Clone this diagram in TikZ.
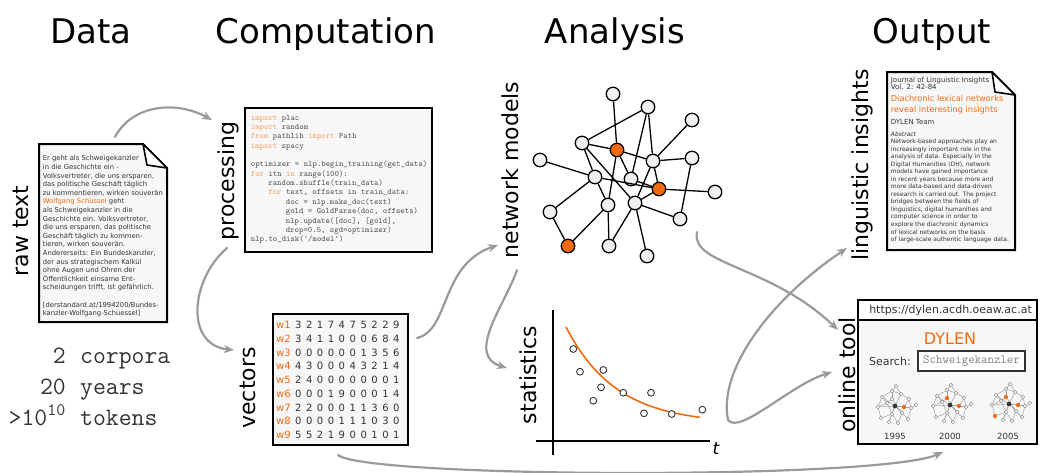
\documentclass[tikz,border=0pt]{standalone}
\usepackage{fontspec}
\setmainfont{DejaVu Sans}
\usetikzlibrary{arrows.meta}

\definecolor{accent}{HTML}{F26A0F}
\definecolor{codekw}{HTML}{F4A36A}
\definecolor{codetx}{HTML}{555555}
\definecolor{paper}{HTML}{F7F7F7}
\definecolor{flow}{HTML}{9A9A9A}
\definecolor{ink}{HTML}{333333}
\definecolor{nodefill}{HTML}{F0F0F0}

\newcommand\kw[1]{\textcolor{codekw}{#1}}
\newcommand\hl[1]{\textcolor{accent}{#1}}

% small network thumbnail; argument: indices of highlighted vertices
\newcommand\miniweb[1]{%
  \foreach \i/\x/\y in {0/0/0,1/-13/-9,2/-3/-15,3/6/-12,4/14/-7,5/-17/1,6/-8/-3,7/-3/-7,
      8/16/2,9/-14/12,10/-3/8,11/7/7,12/13/13,13/-6/16,14/3/17,15/21/-1,16/1/-20,17/9/1}
    {\coordinate (m\i) at (\x,\y);}
  \foreach \a/\b in {0/1,0/3,0/5,0/8,0/10,0/11,0/13,0/17,1/2,1/6,2/3,2/7,3/4,4/8,4/17,
      5/6,6/10,7/11,8/15,9/10,9/5,11/12,12/8,13/10,14/11,14/10,16/2,16/3,6/7,1/5,17/8}
    {\draw[miniedge] (m\a) -- (m\b);}
  \foreach \i in {1,...,17}{\draw[minivertex] (m\i) circle (1.8pt);}
  \fill[ink] (m0) circle (2.3pt);
  \foreach \k in {#1}{\fill[accent] (m\k) circle (2.1pt);}
}

\tikzset{
  header/.style={font=\fontsize{34}{40}\selectfont, anchor=base},
  stagelabel/.style={rotate=90, font=\fontsize{22}{26}\selectfont},
  flowarrow/.style={draw=flow, line width=2.2pt, line cap=round,
    -{Stealth[length=10pt,width=8pt,inset=3pt]}},
  docframe/.style={draw=black, line width=2pt, fill=paper, line join=miter},
  foldcorner/.style={draw=black, line width=1.6pt, fill=white, line join=round},
  codeline/.style={anchor=base west, inner sep=0pt, text=codetx,
    font=\ttfamily\fontsize{8.3}{9.36}\selectfont},
  vecdigit/.style={anchor=base, inner sep=0pt, text=ink, font=\fontsize{10}{12}\selectfont},
  veclabel/.style={anchor=base west, inner sep=0pt, text=accent, font=\fontsize{10}{12}\selectfont},
  gnode/.style={circle, draw=black, line width=1.3pt, fill=nodefill,
    minimum size=13.5pt, inner sep=0pt},
  onode/.style={gnode, fill=accent},
  gedge/.style={draw=black, line width=1.3pt},
  sample/.style={draw=ink, line width=0.9pt, fill=white},
  miniedge/.style={draw=gray!80, line width=0.45pt},
  minivertex/.style={draw=gray!90, line width=0.45pt, fill=white},
  monotext/.style={inner sep=0pt, text=ink, font=\ttfamily\fontsize{25}{29}\selectfont},
}

\begin{document}
\begin{tikzpicture}[x=1pt,y=-1pt]
\useasboundingbox (0,0) rectangle (1041,472);

% ---------- column headers ----------
\node[header] (hData) at (91,43.5) {Data};
\node[header] (hComp) at (326,43.5) {Computation};
\node[header] (hAna)  at (615,43.5) {Analysis};
\node[header] (hOut)  at (932,43.5) {Output};

% ---------- stage labels ----------
\node[stagelabel] (lRaw)  at (20.5,231)  {raw text};
\node[stagelabel] (lProc) at (228,181) {processing};
\node[stagelabel] (lVec)  at (247.5,388) {vectors};
\node[stagelabel] (lNet)  at (510,170) {network models};
\node[stagelabel] (lStat) at (528,375) {statistics};
\node[stagelabel] (lLing) at (862,165) {linguistic insights};
\node[stagelabel] (lTool) at (847,375) {online tool};

% ---------- raw text document ----------
\draw[docframe] (39,144) -- (143,144) -- (167,168) -- (167,322) -- (39,322) -- cycle;
\draw[foldcorner] (143,144) -- (147,165) -- (167,168) -- cycle;
\node[anchor=north west, inner sep=0pt, align=left, text=ink,
      font=\fontsize{6.8}{8.6}\selectfont] (rawtxt) at (42.7,155.5)
 {Er geht als Schweigekanzler\\
  in die Geschichte ein -\\
  Volksvertreter, die uns ersparen,\\
  das politische Geschäft täglich\\
  zu kommentieren, wirken souverän\\
  \hl{Wolfgang Schüssel} geht\\
  als Schweigekanzler in die\\
  Geschichte ein. Volksvertreter,\\
  die uns ersparen, das politische\\
  Geschäft täglich zu kommen-\\
  tieren, wirken souverän.\\
  Andererseits: Ein Bundeskanzler,\\
  der aus strategischem Kalkül\\
  ohne Augen und Ohren der\\
  Öffentlichkeit einsame Ent-\\
  scheidungen trifft, ist gefährlich.\\[8.6pt]
  [derstandard.at/1994200/Bundes-\\
  kanzler-Wolfgang-Schuessel]};

% ---------- corpus figures ----------
\node[monotext, anchor=base east] (n1) at (66,363) {2};
\node[monotext, anchor=base west] (w1) at (80,363) {corpora};
\node[monotext, anchor=base east] (n2) at (66,394) {20};
\node[monotext, anchor=base west] (w2) at (80,394) {years};
\node[monotext, anchor=base east] (n3) at (66,425) {>10\textsuperscript{10}};
\node[monotext, anchor=base west] (w3) at (80,425) {tokens};

% ---------- code box ----------
\draw[draw=black, line width=2.6pt, fill=paper] (245,108) rectangle (432,252);
\node[codeline] (c1)  at (250.7,120.0) {\kw{import} plac};
\node[codeline] (c2)  at (250.7,129.4) {\kw{import} random};
\node[codeline] (c3)  at (250.7,138.7) {\kw{from} pathlib \kw{import} Path};
\node[codeline] (c4)  at (250.7,148.1) {\kw{import} spacy};
\node[codeline] (c6)  at (250.7,166.8) {optimizer = nlp.begin\_training(get\_data)};
\node[codeline] (c7)  at (250.7,176.2) {\kw{for} itn \kw{in} range(100):};
\node[codeline] (c8)  at (268.2,185.6) {random.shuffle(train\_data)};
\node[codeline] (c9)  at (268.2,194.9) {\kw{for} text, offsets in train\_data:};
\node[codeline] (c10) at (285.7,204.3) {doc = nlp.make\_doc(text)};
\node[codeline] (c11) at (285.7,213.6) {gold = GoldParse(doc, offsets)};
\node[codeline] (c12) at (285.7,223.0) {nlp.update([doc], [gold],};
\node[codeline] (c13) at (285.7,232.4) {drop=0.5, sgd=optimizer)};
\node[codeline] (c14) at (250.7,241.7) {nlp.to\_disk('/model')};

% ---------- vector table ----------
\draw[draw=black, line width=2.2pt, fill=paper] (273,314) rectangle (408,445);
\foreach \row [count=\r] in {{3,2,1,7,4,7,5,2,2,9},{3,4,1,1,0,0,0,6,8,4},
    {0,0,0,0,0,0,1,3,5,6},{4,3,0,0,0,4,3,2,1,4},{2,4,0,0,0,0,0,0,0,1},
    {0,0,0,1,9,0,0,0,1,4},{2,2,0,0,0,1,1,3,6,0},{0,0,0,0,1,1,1,0,3,0},
    {5,5,2,1,9,0,0,1,0,1}}{
  \node[veclabel] (wl\r) at (276,{328.6+(\r-1)*13.75}) {w\r};
  \foreach \d [count=\c] in \row {
    \node[vecdigit] (v\r-\c) at ({298.3+(\c-1)*10.9},{328.6+(\r-1)*13.75}) {\d};
  }
}

% ---------- network model ----------
\node[gnode] (A) at (613,94) {};
\node[gnode] (B) at (648,107) {};
\node[gnode] (C) at (692,120) {};
\node[gnode] (D) at (582,143) {};
\node[onode] (E) at (617,150) {};
\node[gnode] (F) at (653,161) {};
\node[gnode] (G) at (692,158) {};
\node[gnode] (H) at (540,160) {};
\node[gnode] (I) at (595,177) {};
\node[gnode] (J) at (631,179) {};
\node[onode] (K) at (659,189) {};
\node[gnode] (L) at (715,192) {};
\node[gnode] (M) at (608,205) {};
\node[gnode] (N) at (635,203) {};
\node[gnode] (O) at (550,212) {};
\node[gnode] (P) at (680,219) {};
\node[onode] (Q) at (568,246) {};
\node[gnode] (R) at (609,246) {};
\node[gnode] (S) at (647,256) {};
\foreach \a/\b in {A/E,B/D,B/J,B/F,C/F,D/E,D/I,D/N,E/F,E/J,E/M,F/G,F/K,F/N,
    G/P,H/I,I/K,I/O,J/K,K/L,K/N,N/P,N/S,N/R,M/R,M/Q,O/Q,I/M}
  {\draw[gedge] (\a) -- (\b);}

% ---------- statistics plot ----------
\coordinate (yTop) at (553,310);
\coordinate (yBot) at (553,455);
\coordinate (xLeft) at (536,441);
\coordinate (xRight) at (710,441);
\draw[line width=1.5pt] (yTop) -- (yBot);
\draw[line width=1.5pt] (xLeft) -- (xRight);
\node[font=\itshape\fontsize{17}{20}\selectfont, inner sep=0pt] (tlab) at (716,449) {t};
\draw[accent, line width=1.6pt] plot[domain=566:700, samples=60]
  (\x, {424-97*exp(-(\x-566)/50)});
\foreach \px/\py in {573.3/349,580/371.7,603.3/370,601/387.3,593.3/400.7,
    623.3/392.7,651/392.7,644/413.3,671.7/414,702.3/409.7}
  {\draw[sample] (\px,\py) circle (3.4pt);}

% ---------- journal article ----------
\draw[docframe] (887,72) -- (992,72) -- (1015,95) -- (1015,250) -- (887,250) -- cycle;
\draw[foldcorner] (992,72) -- (995,92) -- (1015,95) -- cycle;
\node[anchor=north west, inner sep=0pt, align=left, text=ink,
      font=\fontsize{7}{7.8}\selectfont] (jhead) at (890.7,76.5)
 {Journal of Linguistic Insights\\ Vol. 2: 42-84};
\node[anchor=north west, inner sep=0pt, align=left, text=accent,
      font=\fontsize{8.2}{10.7}\selectfont] (jtitle) at (890.7,95.5)
 {Diachronic lexical networks\\ reveal interesting insights};
\node[anchor=north west, inner sep=0pt, text=ink,
      font=\fontsize{7}{8}\selectfont] (jauth) at (890.7,119.5) {DYLEN Team};
\node[anchor=north west, inner sep=0pt, text=ink,
      font=\itshape\fontsize{6}{7.54}\selectfont] (jabs) at (890.7,131.5) {Abstract};
\node[anchor=north west, inner sep=0pt, align=left, text=ink,
      font=\fontsize{6}{7.54}\selectfont] (jbody) at (890.7,138.8)
 {Network-based approaches play an\\
  increasingly important role in the\\
  analysis of data. Especially in the\\
  Digital Humanities (DH), network\\
  models have gained importance\\
  in recent years because more and\\
  more data-based and data-driven\\
  research is carried out. The project\\
  bridges between the fields of\\
  linguistics, digital humanities and\\
  computer science in order to\\
  explore the diachronic dynamics\\
  of lexical networks on the basis\\
  of large-scale authentic language data.};

% ---------- online tool ----------
\draw[line width=2.4pt, fill=paper] (858,300) rectangle (1037,444);
\draw[line width=2pt, fill=white] (858,300) rectangle (1037,320);
\node[font=\fontsize{11}{13}\selectfont, text=ink] (url) at (950.5,310) {https://dylen.acdh.oeaw.ac.at};
\node[font=\fontsize{16}{19}\selectfont, text=accent] (brand) at (950,338.5) {DYLEN};
\node[anchor=west, inner sep=0pt, font=\fontsize{11}{13}\selectfont, text=ink] (srch) at (869,361) {Search:};
\node[draw=ink, line width=1.5pt, fill=white, minimum width=107pt, minimum height=20pt,
      inner sep=0pt, font=\ttfamily\fontsize{12.5}{14}\selectfont, text=gray] (query)
      at (971.5,361) {Schweigekanzler};
\begin{scope}[shift={(895,406)}]\miniweb{17}\end{scope}
\begin{scope}[shift={(950,405)}]\miniweb{7,17}\end{scope}
\begin{scope}[shift={(1009,404)}]\miniweb{7,17,9}\end{scope}
\node[anchor=base, font=\fontsize{8.5}{10}\selectfont, text=ink] (y1) at (895,439) {1995};
\node[anchor=base, font=\fontsize{8.5}{10}\selectfont, text=ink] (y2) at (950,439) {2000};
\node[anchor=base, font=\fontsize{8.5}{10}\selectfont, text=ink] (y3) at (1008,439) {2005};

% ---------- flow arrows ----------
\coordinate (rawOut)   at (115,137);
\coordinate (procIn)   at (212,120);
\coordinate (procOut)  at (227,248);
\coordinate (vecIn)    at (234,350);
\coordinate (vecOut)   at (417,338);
\coordinate (netIn)    at (498,245);
\coordinate (netOut)   at (517,270);
\coordinate (statIn)   at (507,368);
\coordinate (netRight) at (697,232);
\coordinate (statOut)  at (728,420);
\coordinate (lingIn)   at (847,248);
\coordinate (toolInA)  at (838,330);
\coordinate (toolInB)  at (832,372);
\coordinate (vecBottom) at (338,455);
\coordinate (toolBottom) at (943,452);

\draw[flowarrow] (rawOut) .. controls (132,105) and (175,100) .. (procIn);
\draw[flowarrow] (procOut) .. controls (190,280) and (185,345) .. (vecIn);
\draw[flowarrow] (vecOut) .. controls (450,330) and (440,265) .. (netIn);
\draw[flowarrow] (netOut) .. controls (505,305) and (465,355) .. (statIn);
\draw[flowarrow] (netRight) .. controls (690,265) and (770,265) .. (toolInA);
\draw[flowarrow] (statOut) .. controls (718,370) and (770,300) .. (lingIn);
\draw[flowarrow] (statOut) .. controls (740,435) and (790,385) .. (toolInB);
\draw[flowarrow] (vecBottom) .. controls (365,478) and (880,480) .. (toolBottom);
\end{tikzpicture}
\end{document}
